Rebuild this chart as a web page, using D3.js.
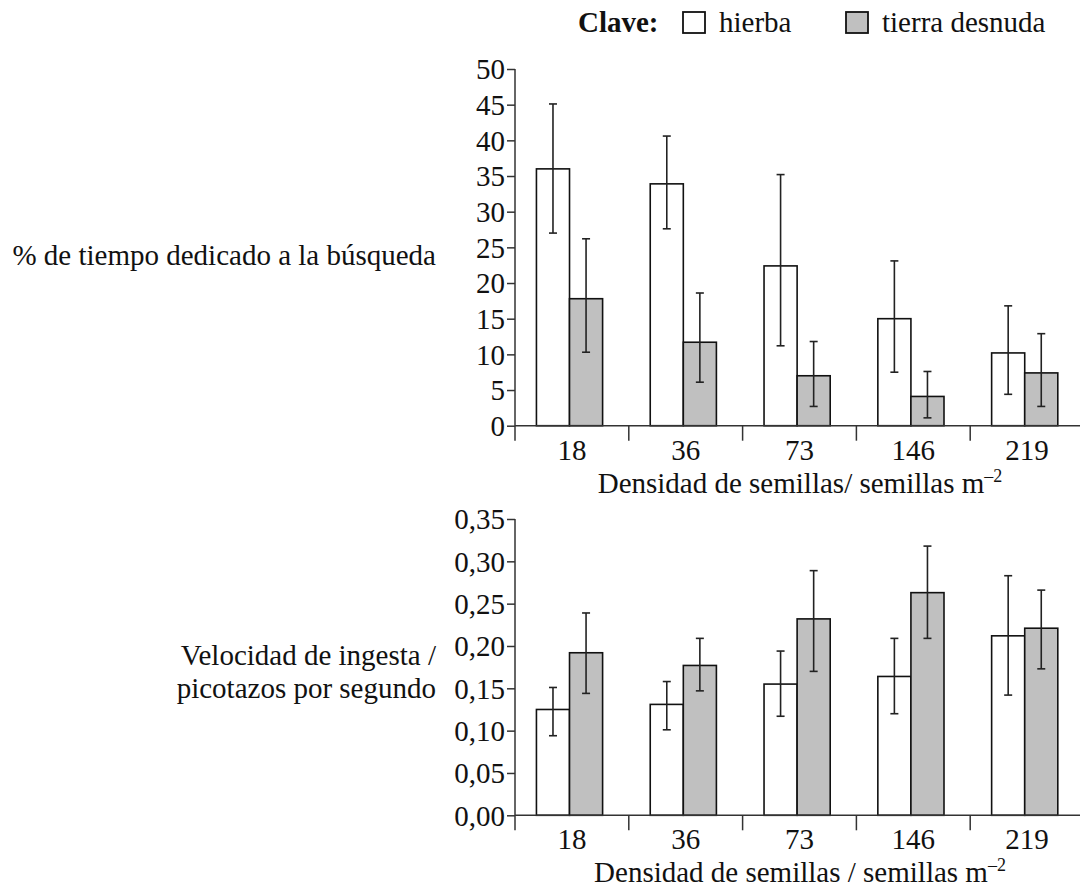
<!DOCTYPE html>
<html>
<head>
<meta charset="utf-8">
<script src="https://cdn.jsdelivr.net/npm/d3@7"></script>
<style>
  body { margin: 0; background: #fff; }
  text { font-family: "Liberation Serif", "Times New Roman", serif; fill: #111; }
</style>
</head>
<body>
<div id="chart"></div>
<script>
// categories (seed density)
var categories = ["18", "36", "73", "146", "219"];
var seriesNames = ["hierba", "tierra desnuda"];

// % time spent searching
var tiempoHierba = [36.0, 33.9, 22.4, 15.0, 10.2];
var tiempoHierbaLo = [27.0, 27.6, 11.2, 7.5, 4.4];
var tiempoHierbaHi = [45.1, 40.6, 35.2, 23.1, 16.8];
var tiempoTierra = [17.8, 11.7, 7.0, 4.1, 7.4];
var tiempoTierraLo = [10.3, 6.1, 2.7, 1.1, 2.7];
var tiempoTierraHi = [26.2, 18.6, 11.8, 7.6, 12.9];

// intake rate (pecks per second)
var velHierba = [0.125, 0.131, 0.155, 0.164, 0.212];
var velHierbaLo = [0.094, 0.101, 0.117, 0.120, 0.142];
var velHierbaHi = [0.151, 0.158, 0.194, 0.209, 0.283];
var velTierra = [0.192, 0.177, 0.232, 0.263, 0.221];
var velTierraLo = [0.144, 0.147, 0.170, 0.209, 0.173];
var velTierraHi = [0.239, 0.209, 0.289, 0.318, 0.266];

// tick values / labels
var topTicks = [0, 5, 10, 15, 20, 25, 30, 35, 40, 45, 50];
var bottomTicks = [0, 0.05, 0.10, 0.15, 0.20, 0.25, 0.30, 0.35];
var bottomTickLabels = ["0,00", "0,05", "0,10", "0,15", "0,20", "0,25", "0,30", "0,35"];

var w = 1080, h = 888;
var fills = ["#ffffff", "#c0c0c0"];
var fs = 29;

var svg = d3.select("#chart").append("svg")
  .attr("width", w).attr("height", h);

var x0 = d3.scaleBand().domain(categories).range([515, 1084]).padding(0);
var x1 = d3.scaleBand().domain(seriesNames).range([0, x0.bandwidth()])
  .paddingInner(0).paddingOuter(0.72).align(0.45);

function makeRows(v1, lo1, hi1, v2, lo2, hi2) {
  var rows = [];
  categories.forEach(function(c, i) {
    rows.push({cat: c, s: seriesNames[0], v: v1[i], lo: lo1[i], hi: hi1[i]});
    rows.push({cat: c, s: seriesNames[1], v: v2[i], lo: lo2[i], hi: hi2[i]});
  });
  return rows;
}

function drawPanel(opt) {
  var y = d3.scaleLinear().domain(opt.domain).range([opt.y0, opt.y1]);
  var g = svg.append("g");

  // bars
  g.selectAll("rect.bar")
    .data(opt.rows)
    .enter().append("rect")
    .attr("class", "bar")
    .attr("x", function(d) { return x0(d.cat) + x1(d.s); })
    .attr("y", function(d) { return y(d.v); })
    .attr("width", x1.bandwidth())
    .attr("height", function(d) { return y(0) - y(d.v); })
    .attr("fill", function(d) { return fills[seriesNames.indexOf(d.s)]; })
    .attr("stroke", "#111")
    .attr("stroke-width", 1.6);

  // error bars
  var eb = g.selectAll("g.err").data(opt.rows).enter().append("g")
    .attr("transform", function(d) { return "translate(" + (x0(d.cat) + x1(d.s) + x1.bandwidth() / 2) + ",0)"; });
  eb.append("line")
    .attr("y1", function(d) { return y(d.lo); })
    .attr("y2", function(d) { return y(d.hi); })
    .attr("stroke", "#222").attr("stroke-width", 1.6);
  eb.append("line")
    .attr("x1", -4).attr("x2", 4)
    .attr("y1", function(d) { return y(d.lo); }).attr("y2", function(d) { return y(d.lo); })
    .attr("stroke", "#222").attr("stroke-width", 1.6);
  eb.append("line")
    .attr("x1", -4).attr("x2", 4)
    .attr("y1", function(d) { return y(d.hi); }).attr("y2", function(d) { return y(d.hi); })
    .attr("stroke", "#222").attr("stroke-width", 1.6);

  // y axis
  var yAxis = d3.axisLeft(y).tickValues(opt.ticks).tickSize(8).tickPadding(2)
    .tickFormat(function(d, i) { return opt.tickLabels[i]; });
  var ya = g.append("g").attr("transform", "translate(515,0)").call(yAxis);
  ya.select(".domain").remove();
  ya.selectAll(".tick line").attr("stroke", "#333").attr("stroke-width", 1.5);
  ya.selectAll(".tick text").attr("font-size", fs).attr("fill", "#111")
    .attr("dy", "0.34em");
  g.append("line").attr("x1", 515).attr("x2", 515)
    .attr("y1", y(opt.domain[1])).attr("y2", y(0) + 15)
    .attr("stroke", "#333").attr("stroke-width", 1.5);

  // x axis: line plus ticks at band edges, labels at band centres
  g.append("line").attr("x1", 515).attr("x2", 1085)
    .attr("y1", y(0)).attr("y2", y(0))
    .attr("stroke", "#333").attr("stroke-width", 1.5);
  g.selectAll("line.xt").data(categories.slice(1)).enter().append("line")
    .attr("x1", function(d) { return x0(d); }).attr("x2", function(d) { return x0(d); })
    .attr("y1", y(0)).attr("y2", y(0) + 15)
    .attr("stroke", "#333").attr("stroke-width", 1.5);
  g.selectAll("text.xl").data(categories).enter().append("text")
    .attr("x", function(d) { return x0(d) + x0.bandwidth() / 2; })
    .attr("y", y(0) + 34)
    .attr("text-anchor", "middle").attr("font-size", fs)
    .text(function(d) { return d; });

  var t = g.append("text").attr("x", 800).attr("y", y(0) + 67)
    .attr("text-anchor", "middle").attr("font-size", fs);
  t.append("tspan").text(opt.xTitle);
  t.append("tspan").attr("font-size", 18).attr("dy", -11).text("\u20132");

  var yl = g.append("text").attr("text-anchor", "end").attr("font-size", fs);
  opt.yTitle.forEach(function(line, i) {
    yl.append("tspan").attr("x", 436).attr("y", opt.yTitleY + i * 33).text(line);
  });
}

drawPanel({
  domain: [0, 50], y0: 425.7, y1: 69,
  ticks: topTicks, tickLabels: topTicks.map(String),
  rows: makeRows(tiempoHierba, tiempoHierbaLo, tiempoHierbaHi, tiempoTierra, tiempoTierraLo, tiempoTierraHi),
  xTitle: "Densidad de semillas/ semillas m",
  yTitle: ["% de tiempo dedicado a la búsqueda"], yTitleY: 265
});

drawPanel({
  domain: [0, 0.35], y0: 815.3, y1: 519,
  ticks: bottomTicks, tickLabels: bottomTickLabels,
  rows: makeRows(velHierba, velHierbaLo, velHierbaHi, velTierra, velTierraLo, velTierraHi),
  xTitle: "Densidad de semillas / semillas m",
  yTitle: ["Velocidad de ingesta /", "picotazos por segundo"], yTitleY: 665
});

// legend
var lg = svg.append("g");
lg.append("text").attr("x", 578).attr("y", 32).attr("font-size", fs)
  .attr("font-weight", "bold").text("Clave:");
var legendX = [683, 846];
seriesNames.forEach(function(s, i) {
  lg.append("rect").attr("x", legendX[i]).attr("y", 12).attr("width", 22).attr("height", 21)
    .attr("fill", fills[i]).attr("stroke", "#111").attr("stroke-width", 1.8);
  lg.append("text").attr("x", legendX[i] + 36).attr("y", 32).attr("font-size", fs).text(s);
});
</script>
</body>
</html>
